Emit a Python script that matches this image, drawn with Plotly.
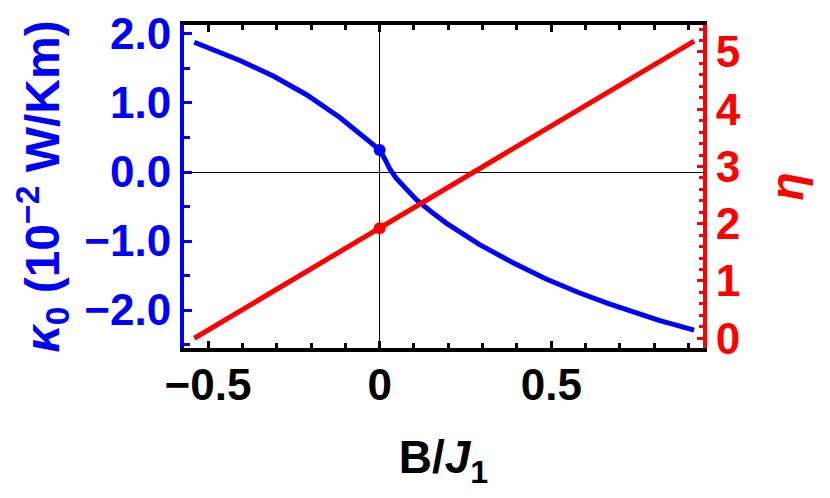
import plotly.graph_objects as go

# Data
b_kappa = [-0.54, -0.48, -0.407, -0.31, -0.213, -0.116, -0.06, 0.0, 0.015, 0.029, 0.048,
           0.08, 0.107, 0.154, 0.194, 0.29, 0.387, 0.485, 0.581, 0.669, 0.814, 0.916]
kappa0 = [1.88, 1.765, 1.615, 1.39, 1.12, 0.79, 0.57, 0.32, 0.19, 0.05, -0.09,
          -0.27, -0.40, -0.59, -0.74, -1.05, -1.31, -1.55, -1.75, -1.91, -2.15, -2.29]
b_eta = [-0.54, 0.0, 0.916]
eta = [0.0, 1.92, 5.19]
dot_b = [0.0]
dot_kappa = [0.32]
dot_eta = [1.92]

x_tickvals = [-0.5, 0, 0.5]
x_ticktext = ["\u22120.5", "0", "0.5"]
y_tickvals = [2, 1, 0, -1, -2]
y_ticktext = ["2.0", "1.0", "0.0", "\u22121.0", "\u22122.0"]
y2_tickvals = [0, 1, 2, 3, 4, 5]

BLUE = "#0000ff"
RED = "#ff0000"
FONT = "Liberation Sans"

fig = go.Figure()
fig.add_trace(go.Scatter(x=b_kappa, y=kappa0, mode="lines",
                         line=dict(color=BLUE, width=5), yaxis="y", showlegend=False))
fig.add_trace(go.Scatter(x=dot_b, y=dot_kappa, mode="markers",
                         marker=dict(color=BLUE, size=12), yaxis="y", showlegend=False))
fig.add_trace(go.Scatter(x=b_eta, y=eta, mode="lines",
                         line=dict(color=RED, width=5), yaxis="y2", showlegend=False))
fig.add_trace(go.Scatter(x=dot_b, y=dot_eta, mode="markers",
                         marker=dict(color=RED, size=12), yaxis="y2", showlegend=False))

# left axis title placed as an annotation so it can sit close to the page edge
fig.add_annotation(
    text="<b><i>\u03ba</i><sub>0</sub> (10<sup>\u22122</sup> W/Km)</b>",
    xref="paper", yref="paper", x=-0.2736, y=0.5,
    xanchor="center", yanchor="middle", textangle=-90, showarrow=False,
    font=dict(family=FONT, size=48, color=BLUE),
)

# the page body has an 8px default margin, so the figure is sized to fit the window
fig.update_layout(
    width=822, height=490,
    margin=dict(l=176, r=127, t=17, b=150),
    plot_bgcolor="white", paper_bgcolor="white",
    font=dict(family=FONT, size=40, color="black"),
    xaxis=dict(
        range=[-0.57, 0.942], automargin=False,
        tickvals=x_tickvals, ticktext=x_ticktext,
        tickfont=dict(family=FONT, size=44, color="black", weight="bold"),
        ticklabelstandoff=-5,
        ticks="inside", ticklen=7, tickwidth=3, tickcolor="black",
        minor=dict(dtick=0.1, tick0=0, ticks="inside", ticklen=5, tickwidth=3, tickcolor="black"),
        showline=True, linecolor="black", linewidth=4, mirror="ticks",
        showgrid=False, zeroline=True, zerolinecolor="black", zerolinewidth=1,
        title=dict(text="<b>B/<i>J</i><sub>1</sub></b>", standoff=34,
                   font=dict(family=FONT, size=46, color="black")),
    ),
    yaxis=dict(
        range=[-2.55, 2.13], automargin=False,
        tickvals=y_tickvals, ticktext=y_ticktext,
        tickfont=dict(family=FONT, size=44, color=BLUE, weight="bold"),
        ticks="inside", ticklen=8, tickwidth=3, tickcolor=BLUE,
        minor=dict(dtick=0.5, tick0=0, ticks="inside", ticklen=6, tickwidth=3, tickcolor=BLUE),
        showline=True, linecolor=BLUE, linewidth=4,
        showgrid=False, zeroline=True, zerolinecolor="black", zerolinewidth=1,
    ),
    yaxis2=dict(
        range=[-0.17, 5.47], overlaying="y", side="right", automargin=False,
        tickvals=y2_tickvals,
        tickfont=dict(family=FONT, size=44, color=RED, weight="bold"),
        ticks="inside", ticklen=6, tickwidth=3, tickcolor=RED,
        minor=dict(dtick=0.2, tick0=0, ticks="inside", ticklen=4, tickwidth=3, tickcolor=RED),
        showline=True, linecolor=RED, linewidth=4,
        showgrid=False, zeroline=False,
        title=dict(text="<b><i>\u03b7</i></b>", standoff=32,
                   font=dict(family=FONT, size=46, color=RED)),
    ),
)

fig.write_html("out.html")
